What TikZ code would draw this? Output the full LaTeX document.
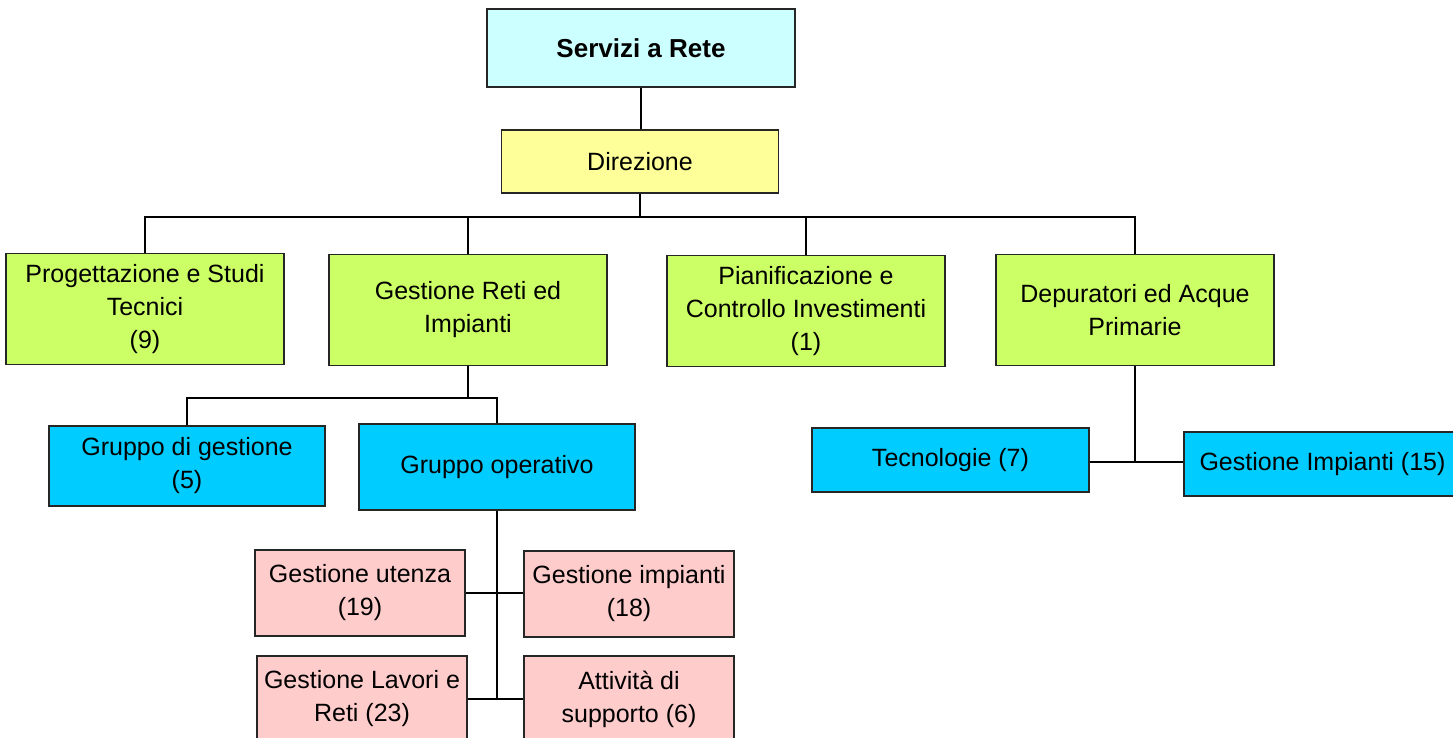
\documentclass[tikz,border=0pt]{standalone}
\usepackage{fontspec}
\setmainfont{Liberation Sans}

\definecolor{toplevel}{HTML}{CCFFFF}
\definecolor{direction}{HTML}{FFFF99}
\definecolor{area}{HTML}{CCFF66}
\definecolor{group}{HTML}{00CCFF}
\definecolor{unit}{HTML}{FFCCCC}

\begin{document}
\begin{tikzpicture}[x=0.5pt,y=-0.5pt]

  \tikzstyle{box} = [draw=black!85, line width=0.75pt, align=center, inner sep=0pt,
                     font=\fontsize{12.5}{16.5}\selectfont]
  \tikzstyle{areabox} = [box, fill=area, minimum width=139pt, minimum height=55.5pt]
  \tikzstyle{unitbox} = [box, fill=unit, minimum width=105pt, minimum height=43pt]
  \tikzstyle{link} = [line width=0.75pt]

  \useasboundingbox (0,0) rectangle (1453,738);
  \clip (0,0) rectangle (1453,738);

  % vertici
  \node[box, fill=toplevel, minimum width=154pt, minimum height=39pt,
        font=\fontsize{13}{16}\selectfont\bfseries] (SAR) at (641,48) {Servizi a Rete};
  \node[box, fill=direction, minimum width=138.5pt, minimum height=31.5pt] (DIR) at (640,161.5) {Direzione};

  % aree
  \node[areabox] (PST) at (145,309) {Progettazione e Studi\\Tecnici\\(9)};
  \node[areabox] (GRI) at (468,310) {Gestione Reti ed\\Impianti};
  \node[areabox] (PCI) at (806,311) {Pianificazione e\\Controllo Investimenti\\(1)};
  \node[areabox] (DAP) at (1135,310) {Depuratori ed Acque\\Primarie};

  % gruppi
  \node[box, fill=group, minimum width=138pt, minimum height=40pt] (GG) at (187,466) {Gruppo di gestione\\(5)};
  \node[box, fill=group, minimum width=138pt, minimum height=43pt] (GO) at (497,467) {Gruppo operativo};
  \node[box, fill=group, minimum width=138.5pt, minimum height=32pt] (TEC) at (950.5,460) {Tecnologie (7)};
  \node[box, fill=group, minimum width=138.5pt, minimum height=32pt] (GIP) at (1322.5,464) {Gestione Impianti (15)};

  % unita operative
  \node[unitbox] (GU) at (360,593) {Gestione utenza\\(19)};
  \node[unitbox] (GIM) at (629,594) {Gestione impianti\\(18)};
  \node[unitbox] (GLR) at (362,699) {Gestione Lavori e\\Reti (23)};
  \node[unitbox] (ADS) at (629,699) {Attivit\`a di\\supporto (6)};

  % collegamenti
  \coordinate (bus) at (640,217);
  \coordinate (gbus) at (468,398);
  \coordinate (obus) at (497,700);
  \coordinate (dbus) at (1135,462);

  \draw[link] (SAR.south) -- (SAR.south |- DIR.north);
  \draw[link] (DIR.south) -- (bus);
  \draw[link] (PST.north) |- (bus);
  \draw[link] (GRI.north) |- (bus);
  \draw[link] (PCI.north) |- (bus);
  \draw[link] (DAP.north) |- (bus);

  \draw[link] (GRI.south) -- (gbus);
  \draw[link] (GG.north) |- (gbus);
  \draw[link] (GO.north) |- (gbus);

  \draw[link] (GO.south) -- (obus);
  \draw[link] (GU.east) -- (GU.east -| GIM.west);
  \draw[link] (GLR.east) -- (ADS.west);

  \draw[link] (DAP.south) -- (dbus);
  \draw[link] (TEC.east |- dbus) -- (GIP.west |- dbus);

\end{tikzpicture}
\end{document}
